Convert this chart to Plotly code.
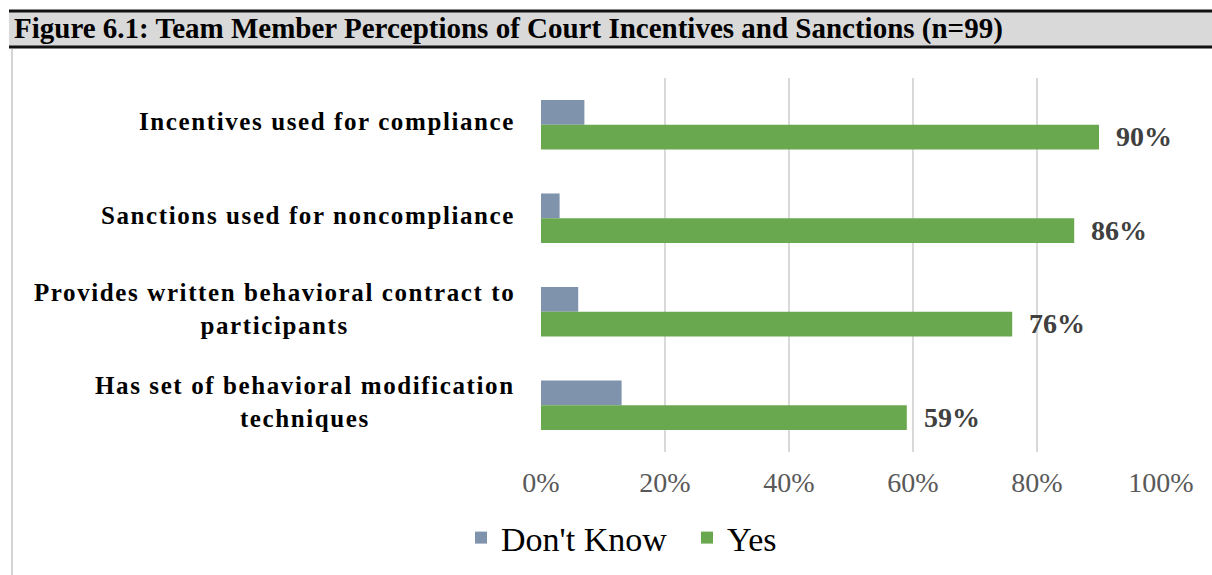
import plotly.graph_objects as go

# Survey results (percent of team members, n=99)
categories = [
    "Incentives used for compliance",
    "Sanctions used for noncompliance",
    "Provides written behavioral contract to<br>participants",
    "Has set of behavioral modification<br>techniques",
]
dont_know = [7, 3, 6, 13]
yes = [90, 86, 76, 59]
x_ticks = [0, 20, 40, 60, 80, 100]
x_tick_labels = ["0%", "20%", "40%", "60%", "80%", "100%"]

W, H = 1212, 575
L, R, T, B = 541, 51, 78, 123
PW, PH = W - L - R, H - T - B

def px_x(px):
    return (px - L) / PW

def px_y(py):
    return (H - B - py) / PH

SERIF = "Liberation Serif"
BLUE = "#7f93ad"
GREEN = "#6aa84f"

fig = go.Figure()
fig.add_trace(go.Bar(
    y=categories, x=dont_know, orientation="h", name="Don't Know",
    marker=dict(color=BLUE, line=dict(width=0)),
))
fig.add_trace(go.Bar(
    y=categories, x=yes, orientation="h", name="Yes",
    marker=dict(color=GREEN, line=dict(width=0)),
))

annotations = []
# value labels beside the "Yes" bars
for cat, v in zip(categories, yes):
    annotations.append(dict(
        x=v, y=cat, xref="x", yref="y", text=f"<b>{v}%</b>",
        showarrow=False, xanchor="left", yanchor="middle",
        xshift=15, yshift=-12,
        font=dict(family=SERIF, size=28, color="#404040"),
    ))
# category labels, centred lines, right edge near the axis
for cat in categories:
    lines = cat.split("<br>")
    spaced = "<br>".join(
        f'<span style="letter-spacing:1.6px">{ln}</span>' for ln in lines
    )
    annotations.append(dict(
        x=0, y=cat, xref="paper", yref="y", text=f"<b>{spaced}</b>",
        showarrow=False, xanchor="right", yanchor="middle", align="center",
        xshift=-24, yshift=3, font=dict(family=SERIF, size=25, color="#000000"),
    ))
# heading
annotations.append(dict(
    x=px_x(12), y=px_y(29), xref="paper", yref="paper",
    text="<b>Figure 6.1: Team Member Perceptions of Court Incentives and Sanctions (n=99)</b>",
    showarrow=False, xanchor="left", yanchor="middle",
    font=dict(family=SERIF, size=29, color="#000000"),
))

shapes = [
    dict(type="rect", xref="paper", yref="paper",
         x0=px_x(9), x1=px_x(1214), y0=px_y(47), y1=px_y(11),
         fillcolor="#d9d9d9", line=dict(width=0), layer="below"),
    dict(type="line", xref="paper", yref="paper",
         x0=px_x(9), x1=px_x(1214), y0=px_y(11), y1=px_y(11),
         line=dict(color="#111111", width=3)),
    dict(type="line", xref="paper", yref="paper",
         x0=px_x(9), x1=px_x(1214), y0=px_y(47), y1=px_y(47),
         line=dict(color="#111111", width=3)),
    dict(type="line", xref="paper", yref="paper",
         x0=px_x(12), x1=px_x(12), y0=px_y(49), y1=px_y(576),
         line=dict(color="#d4d4d4", width=2)),
]

fig.update_layout(
    width=W, height=H,
    margin=dict(l=L, r=R, t=T, b=B, pad=0, autoexpand=False),
    paper_bgcolor="white", plot_bgcolor="white",
    barmode="group", bargap=0.47, bargroupgap=0,
    showlegend=True,
    legend=dict(
        orientation="h", x=px_x(461), y=px_y(538),
        xanchor="left", yanchor="middle",
        font=dict(family=SERIF, size=34, color="#000000"),
        itemwidth=30, entrywidth=181, entrywidthmode="pixels",
        tracegroupgap=0, bgcolor="rgba(0,0,0,0)",
    ),
    xaxis=dict(
        range=[0, 100], tickvals=x_ticks, ticktext=x_tick_labels,
        showgrid=True, gridcolor="#d9d9d9", gridwidth=2,
        zeroline=False, showline=False, ticks="",
        ticklabelstandoff=11,
        tickfont=dict(family=SERIF, size=28, color="#595959"),
    ),
    yaxis=dict(
        autorange="reversed", showticklabels=False, showgrid=False,
        zeroline=False, showline=False, ticks="",
    ),
    annotations=annotations, shapes=shapes,
)

fig.write_html("out.html")
